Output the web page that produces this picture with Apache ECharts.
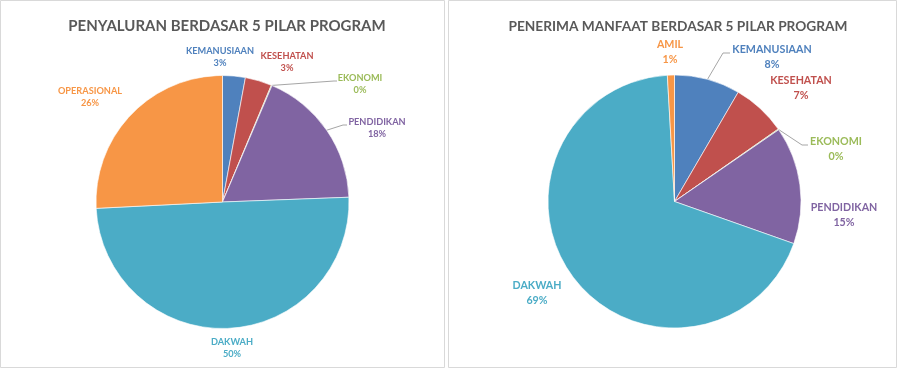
<!DOCTYPE html>
<html><head><meta charset="utf-8">
<script src="https://cdn.jsdelivr.net/npm/echarts@6/dist/echarts.min.js"></script>
<style>html,body{margin:0;padding:0;background:#fff}#c{width:900px;height:369px}</style>
</head><body><div id="c"></div>
<script>
const leftTitle = 'PENYALURAN BERDASAR 5 PILAR PROGRAM';
const leftCategories = ['KEMANUSIAAN','KESEHATAN','EKONOMI','PENDIDIKAN','DAKWAH','OPERASIONAL'];
const leftValues = [2.9, 3.4, 0.1, 18.0, 49.8, 25.8];

const rightTitle = 'PENERIMA MANFAAT BERDASAR 5 PILAR PROGRAM';
const rightCategories = ['KEMANUSIAAN','KESEHATAN','EKONOMI','PENDIDIKAN','DAKWAH','AMIL'];
const rightValues = [8.4, 6.9, 0.1, 15.0, 68.7, 0.9];

const colorMap = {KEMANUSIAAN:'#4F81BD', KESEHATAN:'#C0504D', EKONOMI:'#9BBB59',
  PENDIDIKAN:'#8064A2', DAKWAH:'#4BACC6', OPERASIONAL:'#F79646', AMIL:'#F79646'};

// layout: label centre [x, y] and optional leader bend/end [bx, by, ex], in category order
const leftLabelPlace = [[220,57,null],[287,62,null],[360,84,[334,81,337]],[377,128.5,[343,125,347]],[232,348,null],[90,97,null]];
const rightLabelPlace = [[772,57,[723,53,730]],[801,88,null],[836,149.5,[802,145,808]],[844,215,null],[537,293,null],[670,52,null]];

const FONT = 'Lato';

function buildSeries(cats, vals, center, places, fs, lh) {
  return {
    type: 'pie', center: center, radius: 126.5, startAngle: 90, clockwise: true,
    silent: true, animation: false,
    itemStyle: {borderColor: '#fff', borderWidth: 0.6},
    data: cats.map((c, i) => ({
      name: c, value: vals[i],
      itemStyle: {color: colorMap[c]},
      label: {color: colorMap[c]},
      labelLine: {show: !!places[i][2]}
    })),
    label: {
      show: true, position: 'outside', fontFamily: FONT, fontWeight: 'bold',
      fontSize: fs, lineHeight: lh, align: 'center', overflow: 'none', width: 200,
      formatter: p => p.name + '\n' + Math.round(p.percent) + '%'
    },
    labelLine: {show: true, lineStyle: {color: '#a6a6a6', width: 1}},
    labelLayout: function (params) {
      const pl = places[params.dataIndex];
      const out = {x: pl[0], y: pl[1], align: 'center', verticalAlign: 'middle'};
      if (pl[2] && params.labelLinePoints) {
        const s = params.labelLinePoints[0];
        out.labelLinePoints = [[s[0], s[1]], [pl[2][0], pl[2][1]], [pl[2][2], pl[2][1]]];
      }
      return out;
    }
  };
}

const chart = echarts.init(document.getElementById('c'), null, {renderer: 'canvas'});
chart.setOption({
  backgroundColor: '#fff',
  graphic: [
    {type: 'rect', shape: {x: 0.5, y: 0.5, width: 444, height: 367}, style: {fill: 'none', stroke: '#d9d9d9', lineWidth: 1}, z: -1},
    {type: 'rect', shape: {x: 448.5, y: 0.5, width: 448, height: 367}, style: {fill: 'none', stroke: '#d9d9d9', lineWidth: 1}, z: -1}
  ],
  title: [
    {text: leftTitle, left: 222, top: 14, textAlign: 'center',
     textStyle: {fontFamily: FONT, fontWeight: 'bold', fontSize: 15, color: '#595959'}},
    {text: rightTitle, left: 673, top: 15, textAlign: 'center',
     textStyle: {fontFamily: FONT, fontWeight: 'bold', fontSize: 13.7, color: '#595959'}}
  ],
  series: [
    buildSeries(leftCategories, leftValues, [222.5, 202], leftLabelPlace, 9.2, 12),
    buildSeries(rightCategories, rightValues, [674.5, 201.5], rightLabelPlace, 10.7, 15)
  ]
});
</script>
</body></html>
